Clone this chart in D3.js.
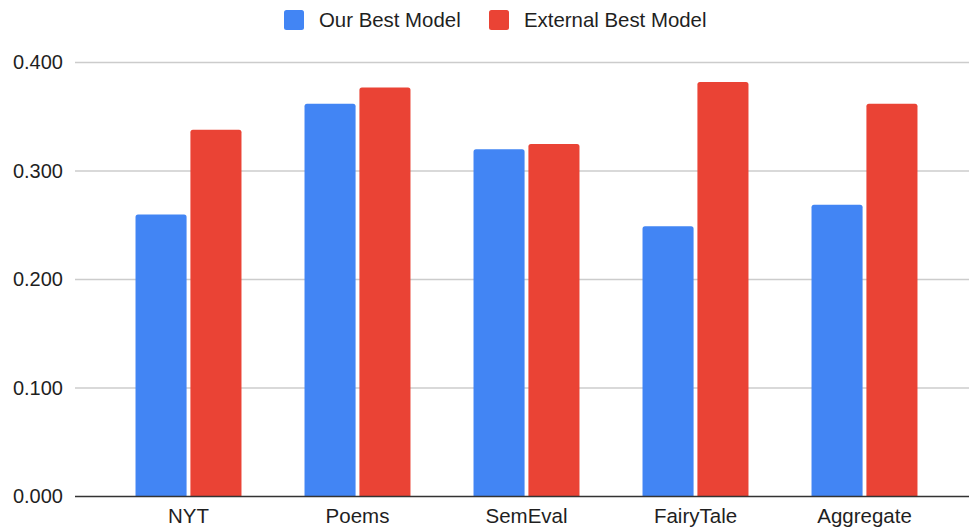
<!DOCTYPE html>
<html>
<head>
<meta charset="utf-8">
<script src="https://cdn.jsdelivr.net/npm/d3@7"></script>
<style>
  html, body { margin: 0; padding: 0; background: #ffffff; }
  svg { display: block; font-family: "Liberation Sans", Arial, Helvetica, sans-serif; }
</style>
</head>
<body>
<svg id="chart" width="969" height="527"></svg>
<script>
// Categories and series
const categories = ["NYT", "Poems", "SemEval", "FairyTale", "Aggregate"];
const seriesNames = ["Our Best Model", "External Best Model"];
const ourBest = [0.260, 0.362, 0.320, 0.249, 0.269];
const externalBest = [0.338, 0.377, 0.325, 0.382, 0.362];
const yTicks = [0, 0.1, 0.2, 0.3, 0.4];
const colors = ["#4285F4", "#EA4335"];

const svg = d3.select("#chart");
const plot = { left: 75, right: 969, top: 62.5, bottom: 496.5 };

const y = d3.scaleLinear().domain([0, 0.4]).range([plot.bottom, plot.top]);

const x = d3.scaleBand()
  .domain(categories)
  .range([104, 949])
  .paddingInner(0.373)
  .paddingOuter(0.1865);

const xs = d3.scaleBand()
  .domain(seriesNames)
  .range([0, x.bandwidth()])
  .paddingInner(0.07);

// Gridlines
const gGrid = svg.append("g");
gGrid.selectAll("line")
  .data(yTicks.filter(d => d !== 0))
  .join("line")
  .attr("x1", plot.left).attr("x2", plot.right)
  .attr("y1", d => y(d)).attr("y2", d => y(d))
  .attr("stroke", "#cccccc").attr("stroke-width", 1.3);

// Value axis labels
const yAxis = d3.axisLeft(y)
  .tickValues(yTicks)
  .tickFormat(d3.format(".3f"))
  .tickSize(0)
  .tickPadding(12);

const gY = svg.append("g")
  .attr("transform", `translate(${plot.left},0)`)
  .call(yAxis);
gY.select(".domain").remove();
gY.selectAll("text")
  .attr("font-size", 20)
  .attr("fill", "#1f1f1f")
  .attr("font-family", "Liberation Sans, Arial, sans-serif");

// Bars with slightly rounded tops
function topRoundedRect(x0, y0, w, h, r) {
  r = Math.min(r, h, w / 2);
  return `M${x0},${y0 + h}V${y0 + r}Q${x0},${y0} ${x0 + r},${y0}` +
         `H${x0 + w - r}Q${x0 + w},${y0} ${x0 + w},${y0 + r}V${y0 + h}Z`;
}

const rows = categories.map((c, i) => ({
  cat: c,
  vals: [ourBest[i], externalBest[i]]
}));

const groups = svg.append("g").selectAll("g")
  .data(rows)
  .join("g")
  .attr("transform", d => `translate(${x(d.cat)},0)`);

groups.selectAll("path")
  .data(d => d.vals.map((v, j) => ({ name: seriesNames[j], v, j })))
  .join("path")
  .attr("d", d => topRoundedRect(xs(d.name), y(d.v), xs.bandwidth(), y(0) - y(d.v), 2.5))
  .attr("fill", d => colors[d.j]);

// Baseline
svg.append("line")
  .attr("x1", plot.left).attr("x2", plot.right)
  .attr("y1", y(0)).attr("y2", y(0))
  .attr("stroke", "#333333").attr("stroke-width", 1.3);

// Category axis labels
const xAxis = d3.axisBottom(x).tickSize(0).tickPadding(12);
const gX = svg.append("g")
  .attr("transform", `translate(0,${y(0)})`)
  .call(xAxis);
gX.select(".domain").remove();
gX.selectAll("text")
  .attr("font-size", 20.5)
  .attr("fill", "#1f1f1f")
  .attr("font-family", "Liberation Sans, Arial, sans-serif");

// Legend
const legend = svg.append("g");
const legendItems = [
  { name: seriesNames[0], color: colors[0], x: 284 },
  { name: seriesNames[1], color: colors[1], x: 489 }
];
const li = legend.selectAll("g").data(legendItems).join("g")
  .attr("transform", d => `translate(${d.x},10)`);
li.append("rect")
  .attr("width", 20).attr("height", 20).attr("rx", 2.5)
  .attr("fill", d => d.color);
li.append("text")
  .attr("x", 35).attr("y", 17)
  .attr("font-size", 20.4)
  .attr("fill", "#1f1f1f")
  .text(d => d.name);
</script>
</body>
</html>
